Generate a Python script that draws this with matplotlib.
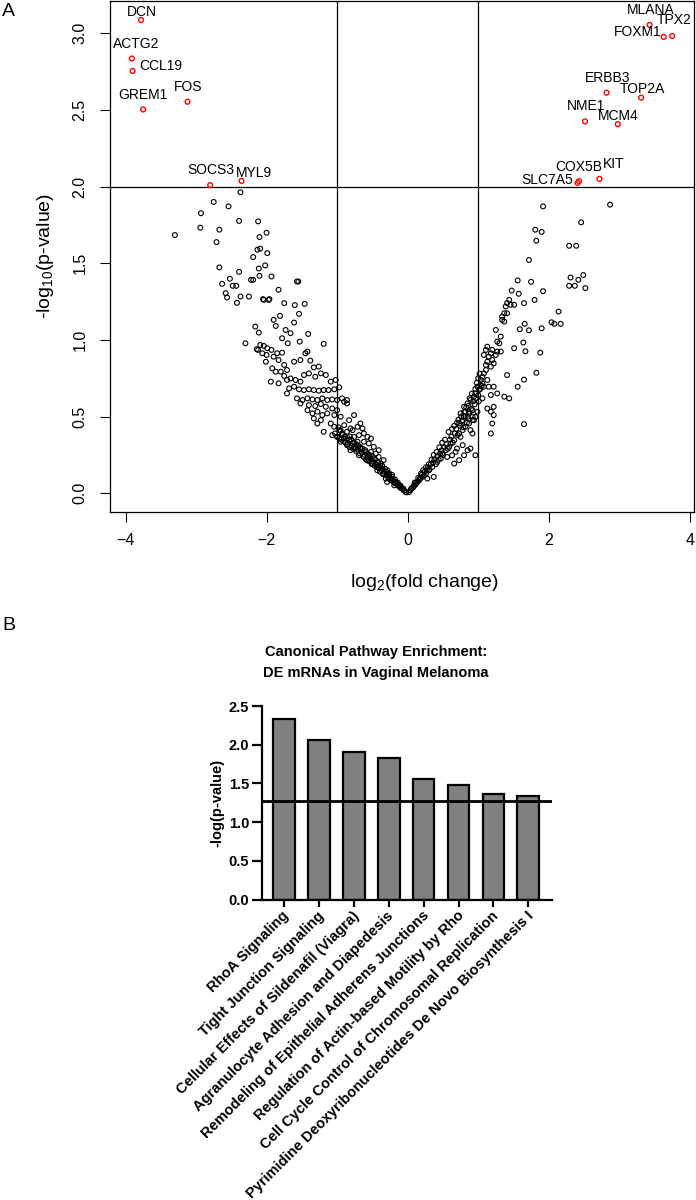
import matplotlib
matplotlib.use("Agg")
import matplotlib.pyplot as plt
import matplotlib.transforms as mtransforms

plt.rcParams['font.family'] = ['Liberation Sans', 'DejaVu Sans']
plt.rcParams['mathtext.fontset'] = 'custom'
plt.rcParams['mathtext.rm'] = 'Liberation Sans'
plt.rcParams['mathtext.it'] = 'Liberation Sans:italic'
plt.rcParams['mathtext.default'] = 'regular'

# ---------------- Panel A data: labelled (significant) genes ----------------
gene_names = ["DCN", "ACTG2", "CCL19", "GREM1", "FOS", "SOCS3", "MYL9",
              "MLANA", "TPX2", "FOXM1", "ERBB3", "TOP2A", "NME1", "MCM4",
              "COX5B", "KIT", "SLC7A5"]
gene_lfc = [-3.78, -3.91, -3.90, -3.75, -3.12, -2.80, -2.355,
            3.43, 3.75, 3.63, 2.82, 3.31, 2.515, 2.98,
            2.43, 2.72, 2.41]
gene_logp = [3.087, 2.835, 2.754, 2.503, 2.553, 2.009, 2.037,
             3.054, 2.982, 2.976, 2.612, 2.58, 2.425, 2.407,
             2.035, 2.05, 2.024]

# ---------------- Panel A data: non-significant genes ----------------
left_upper = [(-2.37, 1.963), (-2.75, 1.90), (-2.93, 1.826), (-2.54, 1.871), (-3.30, 1.684),
              (-2.94, 1.732), (-2.67, 1.719), (-2.71, 1.638), (-2.39, 1.776), (-2.12, 1.773),
              (-2.10, 1.671), (-2.00, 1.699), (-2.13, 1.588), (-2.09, 1.595), (-1.99, 1.566),
              (-2.19, 1.540), (-2.67, 1.473), (-2.02, 1.486), (-2.11, 1.466), (-2.52, 1.399),
              (-2.63, 1.366), (-2.39, 1.444), (-2.10, 1.418), (-1.93, 1.414), (-2.22, 1.392),
              (-2.19, 1.392), (-2.48, 1.353), (-2.43, 1.353), (-2.58, 1.305), (-2.56, 1.277),
              (-2.37, 1.283), (-2.25, 1.283), (-2.42, 1.242), (-2.05, 1.266), (-1.96, 1.266),
              (-1.83, 1.327), (-1.57, 1.381), (-1.55, 1.381), (-2.30, 0.978),
              (-2.04, 1.261), (-1.97, 1.261), (-1.75, 1.240), (-1.60, 1.227), (-1.46, 1.235),
              (-2.16, 1.087), (-2.11, 1.048), (-1.90, 1.131), (-1.81, 1.157), (-1.87, 1.091),
              (-1.61, 1.113), (-1.73, 1.065), (-1.66, 1.044), (-1.54, 1.170), (-1.41, 1.039),
              (-1.19, 0.974), (-1.53, 0.989), (-1.78, 1.011), (-1.70, 0.978)]

left_band = [(-2.14, 0.939), (-2.09, 0.967), (-2.04, 0.961), (-1.99, 0.946), (-1.93, 0.935),
             (-2.06, 0.913), (-2.00, 0.902), (-2.12, 0.935), (-1.85, 0.913), (-1.78, 0.917),
             (-1.90, 0.891), (-2.01, 0.858), (-1.83, 0.869), (-1.75, 0.837), (-1.92, 0.815),
             (-1.87, 0.793), (-1.80, 0.793), (-1.71, 0.804), (-1.94, 0.728), (-1.83, 0.717),
             (-1.75, 0.765), (-1.71, 0.739), (-1.66, 0.749), (-1.59, 0.739), (-1.52, 0.728),
             (-1.47, 0.771), (-1.40, 0.782), (-1.33, 0.821), (-1.26, 0.826), (-1.38, 0.865),
             (-1.52, 0.869), (-1.61, 0.858), (-1.45, 0.913), (-1.42, 0.924), (-1.31, 0.760),
             (-1.23, 0.782), (-1.16, 0.771), (-1.09, 0.728), (-1.02, 0.739), (-1.68, 0.684),
             (-1.61, 0.695), (-1.54, 0.678), (-1.47, 0.673), (-1.40, 0.678), (-1.33, 0.673),
             (-1.26, 0.669), (-1.19, 0.673), (-1.12, 0.673), (-1.04, 0.678), (-0.97, 0.691),
             (-1.71, 0.651), (-1.57, 0.619), (-1.49, 0.608), (-1.42, 0.619), (-1.35, 0.612),
             (-1.28, 0.608), (-1.21, 0.619), (-1.14, 0.608), (-1.07, 0.612), (-1.00, 0.608),
             (-0.93, 0.619), (-0.86, 0.608), (-1.52, 0.586), (-1.40, 0.575), (-1.31, 0.569),
             (-1.23, 0.582), (-1.16, 0.564), (-1.07, 0.553), (-1.00, 0.542), (-0.90, 0.597),
             (-0.86, 0.586), (-1.42, 0.542), (-1.35, 0.521), (-1.28, 0.532), (-1.21, 0.510),
             (-1.14, 0.521), (-1.04, 0.510), (-0.95, 0.499), (-1.33, 0.488), (-1.23, 0.477),
             (-1.28, 0.455), (-1.19, 0.401), (-1.09, 0.455), (-1.04, 0.434), (-0.97, 0.412),
             (-0.90, 0.444), (-0.83, 0.477), (-0.76, 0.510), (-0.81, 0.423), (-0.71, 0.434),
             (-0.67, 0.455), (-0.64, 0.423), (-1.07, 0.379), (-1.00, 0.368), (-0.93, 0.390),
             (-0.86, 0.401), (-0.78, 0.412), (-0.90, 0.357), (-0.83, 0.346), (-0.76, 0.368),
             (-0.69, 0.379), (-0.62, 0.390), (-0.57, 0.368), (-0.52, 0.357), (-0.95, 0.336),
             (-0.86, 0.314), (-0.78, 0.325), (-0.71, 0.336), (-0.62, 0.336), (-0.55, 0.325),
             (-0.48, 0.303), (-0.81, 0.281), (-0.74, 0.292), (-0.67, 0.292), (-0.60, 0.281),
             (-0.52, 0.270), (-0.45, 0.259), (-0.41, 0.281), (-0.69, 0.248), (-0.62, 0.237),
             (-0.55, 0.242), (-0.48, 0.227), (-0.41, 0.237), (-0.34, 0.216), (-0.38, 0.194),
             (-0.57, 0.216), (-0.50, 0.194), (-0.43, 0.183), (-0.36, 0.161), (-0.29, 0.150),
             (-0.43, 0.150), (-0.34, 0.129), (-0.26, 0.118), (-0.22, 0.107), (-0.31, 0.096),
             (-0.24, 0.085), (-0.17, 0.074), (-0.12, 0.052), (-0.08, 0.031), (-0.03, 0.009),
             (-0.19, 0.052), (-0.29, 0.074)]

left_arm = [(-0.02, 0.006), (-0.05, 0.018), (-0.07, 0.025), (-0.10, 0.035), (-0.11, 0.045),
            (-0.14, 0.050), (-0.15, 0.062), (-0.18, 0.065), (-0.20, 0.075), (-0.21, 0.090),
            (-0.23, 0.095), (-0.27, 0.100), (-0.28, 0.125), (-0.30, 0.115), (-0.33, 0.140),
            (-0.35, 0.125), (-0.37, 0.150), (-0.39, 0.140), (-0.41, 0.165), (-0.44, 0.170),
            (-0.45, 0.190), (-0.47, 0.180), (-0.49, 0.205), (-0.51, 0.190), (-0.53, 0.225),
            (-0.55, 0.210), (-0.57, 0.235), (-0.59, 0.220), (-0.61, 0.250), (-0.63, 0.240),
            (-0.65, 0.265), (-0.68, 0.260), (-0.70, 0.280), (-0.73, 0.275), (-0.74, 0.300),
            (-0.77, 0.290), (-0.79, 0.310), (-0.82, 0.300), (-0.85, 0.320), (-0.88, 0.330),
            (-0.91, 0.340), (-0.94, 0.350), (-0.97, 0.360), (-1.00, 0.370), (-1.03, 0.390),
            (-0.98, 0.430), (-0.95, 0.410), (-0.92, 0.380), (-0.89, 0.370), (-0.85, 0.360),
            (-0.82, 0.370), (-0.80, 0.350), (-0.76, 0.330), (-0.73, 0.320), (-0.70, 0.310),
            (-0.67, 0.300), (-0.64, 0.290), (-0.60, 0.270), (-0.57, 0.260), (-0.54, 0.250),
            (-0.50, 0.240), (-0.46, 0.220), (-0.42, 0.200), (-0.39, 0.180), (-0.36, 0.180),
            (-0.32, 0.160), (-0.30, 0.140), (-0.26, 0.130), (-0.22, 0.120), (-0.18, 0.090),
            (-0.14, 0.070), (-0.10, 0.050), (-0.06, 0.030)]

right_arm = [(0.02, 0.008), (0.04, 0.020), (0.06, 0.035), (0.08, 0.040), (0.11, 0.055),
             (0.12, 0.070), (0.14, 0.075), (0.17, 0.090), (0.18, 0.100), (0.20, 0.120),
             (0.23, 0.115), (0.24, 0.140), (0.27, 0.150), (0.29, 0.170), (0.31, 0.155),
             (0.33, 0.190), (0.36, 0.200), (0.38, 0.220), (0.40, 0.190), (0.42, 0.240),
             (0.44, 0.220), (0.46, 0.260), (0.48, 0.280), (0.50, 0.250), (0.52, 0.300),
             (0.55, 0.320), (0.57, 0.290), (0.60, 0.350), (0.62, 0.370), (0.64, 0.330),
             (0.67, 0.390), (0.69, 0.420), (0.71, 0.380), (0.74, 0.440), (0.77, 0.470),
             (0.79, 0.430), (0.82, 0.500), (0.84, 0.460), (0.87, 0.520), (0.90, 0.550),
             (0.92, 0.500), (0.95, 0.580), (0.97, 0.620), (1.00, 0.640), (1.01, 0.600),
             (1.03, 0.680), (1.05, 0.700),
             (0.05, 0.030), (0.10, 0.070), (0.15, 0.100), (0.19, 0.130), (0.22, 0.150),
             (0.26, 0.170), (0.30, 0.190), (0.34, 0.220), (0.37, 0.250), (0.41, 0.270),
             (0.45, 0.300), (0.49, 0.330), (0.53, 0.350), (0.58, 0.400), (0.63, 0.420),
             (0.66, 0.440), (0.70, 0.460), (0.72, 0.480), (0.76, 0.500), (0.80, 0.530),
             (0.83, 0.560), (0.86, 0.570), (0.88, 0.620), (0.91, 0.650), (0.93, 0.600),
             (0.96, 0.680), (0.98, 0.720), (1.00, 0.750), (1.02, 0.780)]

right_band = [(0.09, 0.052), (0.16, 0.085), (0.21, 0.107), (0.26, 0.129), (0.30, 0.150),
              (0.35, 0.172), (0.37, 0.107), (0.28, 0.096), (0.42, 0.205), (0.47, 0.227),
              (0.49, 0.259), (0.54, 0.281), (0.59, 0.303), (0.61, 0.325), (0.66, 0.346),
              (0.56, 0.237), (0.63, 0.248), (0.68, 0.270), (0.70, 0.292), (0.78, 0.314),
              (0.66, 0.194), (0.73, 0.216), (0.80, 0.248), (0.85, 0.281), (0.89, 0.292),
              (0.96, 0.248), (0.75, 0.368), (0.73, 0.390), (0.78, 0.412), (0.82, 0.434),
              (0.87, 0.455), (0.92, 0.477), (0.73, 0.455), (0.75, 0.521), (0.80, 0.564),
              (0.85, 0.586), (0.89, 0.608), (0.94, 0.630), (0.96, 0.651), (0.92, 0.542),
              (0.85, 0.499), (0.89, 0.412), (0.92, 0.390), (0.94, 0.477), (0.96, 0.499),
              (0.99, 0.532), (0.80, 0.499), (0.82, 0.532), (0.78, 0.477), (0.87, 0.532),
              (0.99, 0.695), (1.04, 0.739), (1.06, 0.760), (1.08, 0.782), (1.11, 0.804),
              (1.13, 0.739), (1.15, 0.695), (1.08, 0.695), (1.06, 0.717), (1.01, 0.673),
              (1.11, 0.837), (1.13, 0.858), (1.15, 0.891), (1.18, 0.913), (1.20, 0.869),
              (1.22, 0.847), (1.25, 0.902), (1.27, 0.924), (1.30, 0.978), (1.32, 1.022),
              (1.34, 1.131), (1.37, 1.174), (1.39, 1.218), (1.41, 1.240), (1.44, 1.261),
              (1.46, 1.229), (1.51, 1.229), (1.34, 1.152), (1.37, 1.120), (1.41, 1.174),
              (1.25, 1.065), (1.27, 0.989), (1.11, 0.935), (1.13, 0.956), (1.08, 0.902),
              (1.20, 0.935), (1.32, 0.924), (1.18, 0.826), (1.22, 0.695), (1.27, 0.651),
              (1.18, 0.641), (1.06, 0.619), (1.13, 0.553), (1.18, 0.532), (1.22, 0.564),
              (1.22, 0.510), (1.20, 0.455), (1.18, 0.390), (1.37, 0.630), (1.44, 0.619),
              (1.51, 0.946), (1.56, 0.695), (1.41, 0.771)]

right_upper = [(1.92, 1.871), (2.87, 1.882), (2.46, 1.767), (1.81, 1.719), (1.90, 1.704),
               (1.825, 1.647), (2.29, 1.614), (2.39, 1.614), (1.72, 1.521), (1.56, 1.388),
               (1.75, 1.379), (2.31, 1.407), (2.42, 1.392), (2.49, 1.423), (2.29, 1.353),
               (2.37, 1.353), (2.52, 1.338), (1.475, 1.322), (1.575, 1.301), (1.92, 1.318),
               (1.80, 1.261), (1.65, 1.240), (2.14, 1.185), (2.04, 1.115), (2.08, 1.105),
               (2.17, 1.105), (1.66, 1.105), (1.59, 1.070), (1.72, 1.063), (1.90, 1.076),
               (1.64, 0.983), (1.67, 0.926), (1.88, 0.917), (1.65, 0.741), (1.825, 0.786),
               (1.65, 0.451)]

# label offsets (pixels from point to label centre)
label_offsets = {"DCN": (1, -8), "ACTG2": (4.5, -15), "CCL19": (28, -5), "GREM1": (0, -14.3),
                 "FOS": (1, -15), "SOCS3": (0.6, -15), "MYL9": (12.8, -8),
                 "MLANA": (0.7, -15), "TPX2": (1.6, -15.7), "FOXM1": (-25.8, -5),
                 "ERBB3": (1.5, -14.6), "TOP2A": (1.5, -9), "NME1": (1.2, -15.3),
                 "MCM4": (0.3, -8), "COX5B": (-0.3, -14), "KIT": (14, -15),
                 "SLC7A5": (-30.7, -3.3)}

# ---------------- Panel B data ----------------
pathways = ["RhoA Signaling", "Tight Junction Signaling",
            "Cellular Effects of Sildenafil (Viagra)",
            "Agranulocyte Adhesion and Diapedesis",
            "Remodeling of Epithelial Adherens Junctions",
            "Regulation of Actin-based Motility by Rho",
            "Cell Cycle Control of Chromosomal Replication",
            "Pyrimidine Deoxyribonucleotides De Novo Biosynthesis I"]
neg_log_p = [2.335, 2.06, 1.905, 1.83, 1.555, 1.486, 1.366, 1.34]
threshold = 1.28

W, H = 696, 1200
fig = plt.figure(figsize=(W / 100, H / 100), dpi=100)

# ================= Panel A: volcano =================
ax1 = fig.add_axes([110 / W, 1 - 511.7 / H, 584 / W, 510.7 / H])
bg = left_upper + left_band + left_arm + right_arm + right_band + right_upper
bx = [p[0] for p in bg]
by = [p[1] for p in bg]
ax1.scatter(bx, by, s=12, facecolors='none', edgecolors='black', linewidths=0.8, zorder=2)
ax1.scatter(gene_lfc, gene_logp, s=12, facecolors='none', edgecolors='#ff0000',
            linewidths=1.0, zorder=3)
ax1.set_xlim(-4.22, 4.06)
ax1.set_ylim(-0.12, 3.21)
ax1.axhline(2, color='black', lw=0.9, zorder=1)
ax1.axvline(-1, color='black', lw=0.9, zorder=1)
ax1.axvline(1, color='black', lw=0.9, zorder=1)
for s in ax1.spines.values():
    s.set_linewidth(0.9)
ax1.set_xticks([-4, -2, 0, 2, 4])
ax1.set_xticklabels(['\u22124', '\u22122', '0', '2', '4'])
ax1.set_yticks([0, 0.5, 1.0, 1.5, 2.0, 2.5, 3.0])
ax1.set_yticklabels(['0.0', '0.5', '1.0', '1.5', '2.0', '2.5', '3.0'])
ax1.tick_params(axis='both', direction='out', length=7.2, width=0.8, labelsize=11.5)
ax1.tick_params(axis='x', pad=8)
ax1.tick_params(axis='y', pad=14.4)
for t in ax1.get_yticklabels():
    t.set_rotation(90)
    t.set_ha('center')
    t.set_va('center')

for name, x, y in zip(gene_names, gene_lfc, gene_logp):
    dx, dy = label_offsets[name]
    ax1.annotate(name, (x, y), xytext=(dx * 0.72, -dy * 0.72), textcoords='offset points',
                 ha='center', va='center', fontsize=10, color='black')

fig.text(424 / W, 1 - 582.7 / H, r'log$_2$(fold change)', ha='center', va='center', fontsize=14)
fig.text(45 / W, 1 - 256 / H, r'-log$_{10}$(p-value)', ha='center', va='center',
         rotation=90, fontsize=14)
fig.text(8.5 / W, 1 - 12 / H, 'A', ha='center', va='center', fontsize=14)
fig.text(8.5 / W, 1 - 625 / H, 'B', ha='center', va='center', fontsize=14)

# ================= Panel B: bar chart =================
ax2 = fig.add_axes([261.7 / W, 1 - 899.7 / H, 290 / W, 193.7 / H])
xpos = list(range(len(pathways)))
ax2.bar(xpos, neg_log_p, width=0.62, color='#808080', edgecolor='black', linewidth=1.6, zorder=2)
ax2.axhline(threshold, color='black', lw=2, zorder=3)
ax2.set_xlim(-0.639, 7.67)
ax2.set_ylim(0, 2.5)
ax2.spines['top'].set_visible(False)
ax2.spines['right'].set_visible(False)
ax2.spines['left'].set_linewidth(1.6)
ax2.spines['bottom'].set_linewidth(1.6)
ax2.set_yticks([0, 0.5, 1.0, 1.5, 2.0, 2.5])
ax2.set_yticklabels(['0.0', '0.5', '1.0', '1.5', '2.0', '2.5'], fontweight='bold')
ax2.tick_params(axis='y', length=7.2, width=1.6, labelsize=10.5, pad=1.7)
ax2.set_xticks(xpos)
ax2.set_xticklabels(pathways, rotation=45, ha='right', va='center',
                    rotation_mode='anchor', fontweight='bold')
ax2.tick_params(axis='x', length=5, width=1.6, labelsize=10.5, pad=5)
offset = mtransforms.ScaledTranslation(3 / 100, 0, fig.dpi_scale_trans)
for t in ax2.get_xticklabels():
    t.set_transform(t.get_transform() + offset)

fig.text(217 / W, 1 - 802.5 / H, '-log(p-value)', ha='center', va='center', rotation=90,
         fontsize=10.5, fontweight='bold')
fig.text(376 / W, 1 - 651.7 / H, 'Canonical Pathway Enrichment:', ha='center', va='center',
         fontsize=10.5, fontweight='bold')
fig.text(376 / W, 1 - 673 / H, 'DE mRNAs in Vaginal Melanoma', ha='center', va='center',
         fontsize=10.5, fontweight='bold')

fig.savefig('out.png', dpi=100)
